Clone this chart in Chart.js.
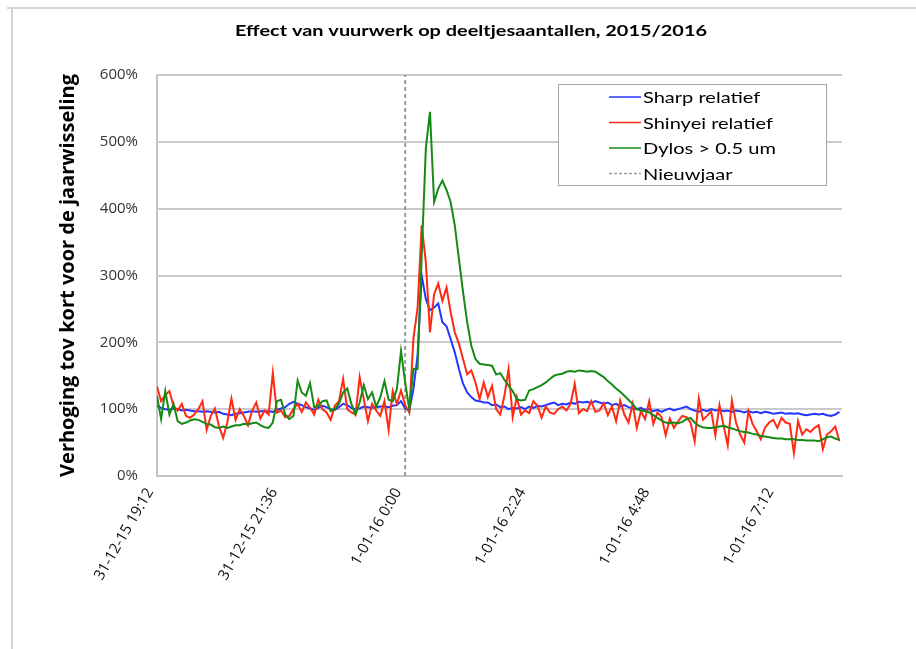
<!DOCTYPE html>
<html><head><meta charset="utf-8">
<script src="https://cdn.jsdelivr.net/npm/chart.js@4"></script>
<style>
html,body{margin:0;padding:0;background:#fff;}
#wrap{position:relative;width:916px;height:649px;overflow:hidden;}
canvas{position:absolute;left:0;top:0;}
#frameTop{position:absolute;left:7px;top:7px;width:909px;height:2px;background:#d4d4d4;}
#frameLeft{position:absolute;left:11px;top:7px;width:2px;height:642px;background:#d4d4d4;}
</style></head><body>
<div id="wrap"><canvas id="c" width="916" height="649"></canvas><div id="frameTop"></div><div id="frameLeft"></div></div>
<script>
// ---- data ----
const chartTitle = 'Effect van vuurwerk op deeltjesaantallen, 2015/2016';
const yAxisTitle = 'Verhoging tov kort voor de jaarwisseling';
const tickLabels = ['31-12-15 19:12','31-12-15 21:36','1-01-16 0:00','1-01-16 2:24','1-01-16 4:48','1-01-16 7:12'];
const tickStepMinutes = 144;      // minutes between labelled ticks
const sampleMinutes = 4.8;        // minutes between samples, from 31-12-15 19:12
const endMinutes = 795;           // last time shown (about 1-01-16 8:27)
const newYearMinutes = 288;       // 1-01-16 0:00
const seriesNames = ['Sharp relatief','Shinyei relatief','Dylos > 0.5 um','Nieuwjaar'];

const sharp = [
105,102,100,99,101,100,98,99,98,97,
97,96,97,96,95,96,93,92,91,93,
94,95,96,97,96,97,97,97,96,99,
101,103,108,111,108,106,103,101,99,102,
105,103,100,99,103,108,106,102,100,101,
104,103,102,103,104,104,103,105,106,112,
101,98,130,180,300,265,248,252,258,230,
224,205,185,160,138,125,118,113,112,110,
110,106,107,103,104,100,102,101,103,100,
104,102,105,104,106,108,110,106,108,107,
110,108,111,110,111,109,112,110,108,110,
106,108,104,106,103,101,100,102,99,100,
97,99,96,99,101,98,100,102,104,100,
98,96,99,97,100,98,99,97,98,96,
98,97,95,97,95,96,94,96,95,93,
94,95,93,94,93,94,92,91,92,93,
92,93,91,90,92,96];

const shinyei = [
134,112,121,127,105,98,108,90,87,92,
100,112,69,90,101,74,57,80,116,84,
100,90,76,98,110,86,98,92,154,95,
98,88,90,100,108,96,110,102,92,114,
100,95,84,105,112,145,100,95,92,148,
115,82,108,98,90,112,69,127,108,128,
106,95,206,251,375,320,215,272,288,262,
282,245,215,198,175,152,158,140,115,140,
118,135,100,92,120,160,88,118,92,98,
94,112,105,87,104,95,93,100,104,98,
108,138,94,100,97,112,96,98,109,91,
104,82,113,92,80,108,72,97,85,112,
78,95,88,61,86,72,82,90,88,80,
52,116,84,90,97,61,106,75,46,113,
80,62,50,97,78,67,55,72,80,84,
72,87,80,78,34,82,62,70,66,72,
76,40,62,67,74,52];

const dylos = [
120,85,127,92,108,82,78,80,83,85,
84,81,78,77,73,72,74,72,74,76,
76,78,77,79,80,76,73,72,80,112,
114,92,85,90,143,125,120,139,103,105,
112,113,97,100,108,125,131,108,92,110,
136,115,125,104,118,142,114,112,130,187,
140,100,160,160,330,490,545,410,430,442,
428,410,375,325,275,230,195,175,168,167,
166,165,152,154,144,135,127,115,113,114,
128,130,133,136,140,145,150,152,153,156,
157,156,158,157,156,157,156,152,148,142,
137,131,126,120,114,108,100,98,97,95,
91,87,83,80,79,80,79,81,85,87,
80,75,73,72,72,73,74,75,73,71,
69,67,66,65,63,62,60,59,58,57,
56,56,55,55,55,54,54,53,53,53,
52,55,58,59,56,54];

const yMin = 0, yMax = 600, yStep = 100;

// ---- build ----
const toPoints = arr => arr.map((v, i) => ({x: i * sampleMinutes, y: v}));

// draw text stretched horizontally to a target width (the source chart's text is wide)
function wideText(ctx, text, x, y, targetWidth, align) {
  const w = ctx.measureText(text).width;
  const k = targetWidth / w;
  ctx.save();
  ctx.translate(x, y);
  ctx.scale(k, 1);
  ctx.textAlign = align;
  ctx.fillText(text, 0, 0);
  ctx.restore();
}

const overlay = {
  id: 'overlay',
  afterDraw(chart) {
    const ctx = chart.ctx;
    ctx.save();
    ctx.fillStyle = '#000';
    ctx.textBaseline = 'middle';
    ctx.font = 'bold 16px Lato';
    wideText(ctx, chartTitle, 471, 31, 472, 'center');
    const bx = 558.5, by = 84.5, bw = 268, bh = 101;
    ctx.fillStyle = '#fff';
    ctx.fillRect(bx, by, bw, bh);
    ctx.strokeStyle = '#a6a6a6';
    ctx.lineWidth = 1;
    ctx.strokeRect(bx, by, bw, bh);
    ctx.font = '16px Lato';
    const k = 130 / ctx.measureText(seriesNames[1]).width;
    chart.data.datasets.forEach((ds, i) => {
      const y = 97 + i * 25.5;
      ctx.strokeStyle = ds.borderColor;
      ctx.lineWidth = 1.5;
      ctx.setLineDash(ds.borderDash ? [3, 2] : []);
      ctx.beginPath(); ctx.moveTo(609, y); ctx.lineTo(641, y); ctx.stroke();
      ctx.setLineDash([]);
      ctx.fillStyle = '#000';
      const w = ctx.measureText(ds.label).width * k;
      wideText(ctx, ds.label, 643, y + 1, w, 'left');
    });
    ctx.restore();
  }
};

new Chart(document.getElementById('c'), {
  type: 'line',
  data: {
    datasets: [
      {label: seriesNames[0], data: toPoints(sharp), borderColor: '#2336ff', borderWidth: 2, order: 2},
      {label: seriesNames[1], data: toPoints(shinyei), borderColor: '#ff2a12', borderWidth: 2, order: 1},
      {label: seriesNames[2], data: toPoints(dylos), borderColor: '#158a15', borderWidth: 2, order: 0},
      {label: seriesNames[3], data: [{x: newYearMinutes, y: yMin}, {x: newYearMinutes, y: yMax}],
       borderColor: '#9a9a9a', borderWidth: 2, borderDash: [4, 3], order: 3}
    ]
  },
  options: {
    responsive: false,
    animation: false,
    layout: {padding: {left: 56, right: 74, top: 75, bottom: 0}},
    plugins: {legend: {display: false}, title: {display: false}, tooltip: {enabled: false}},
    elements: {point: {radius: 0}, line: {tension: 0, fill: false}},
    scales: {
      x: {
        type: 'linear', min: 0, max: endMinutes,
        grid: {display: false, drawTicks: false},
        border: {color: '#c4c4c4', width: 2},
        ticks: {
          minRotation: 60, maxRotation: 60, padding: 9, labelOffset: -7, autoSkip: false,
          font: {family: 'Open Sans', size: 15}, color: '#111',
          callback: v => tickLabels[Math.round(v / tickStepMinutes)]
        },
        afterBuildTicks: s => { s.ticks = tickLabels.map((_, k) => ({value: k * tickStepMinutes})); },
        afterFit: s => { s.height = 649 - 476; }
      },
      y: {
        min: yMin, max: yMax,
        ticks: {stepSize: yStep, padding: 19, callback: v => v + '%', font: {family: 'Open Sans', size: 15}, color: '#333'},
        grid: {color: '#cacaca', lineWidth: 2, drawTicks: false},
        border: {color: '#c4c4c4', width: 2},
        title: {display: true, text: yAxisTitle, font: {family: 'Open Sans', size: 20, weight: 'bold'}, color: '#000', padding: {top: 0, bottom: 0}},
        afterFit: s => { s.width = 157 - 56; }
      }
    }
  },
  plugins: [overlay]
});
</script>
</body></html>
